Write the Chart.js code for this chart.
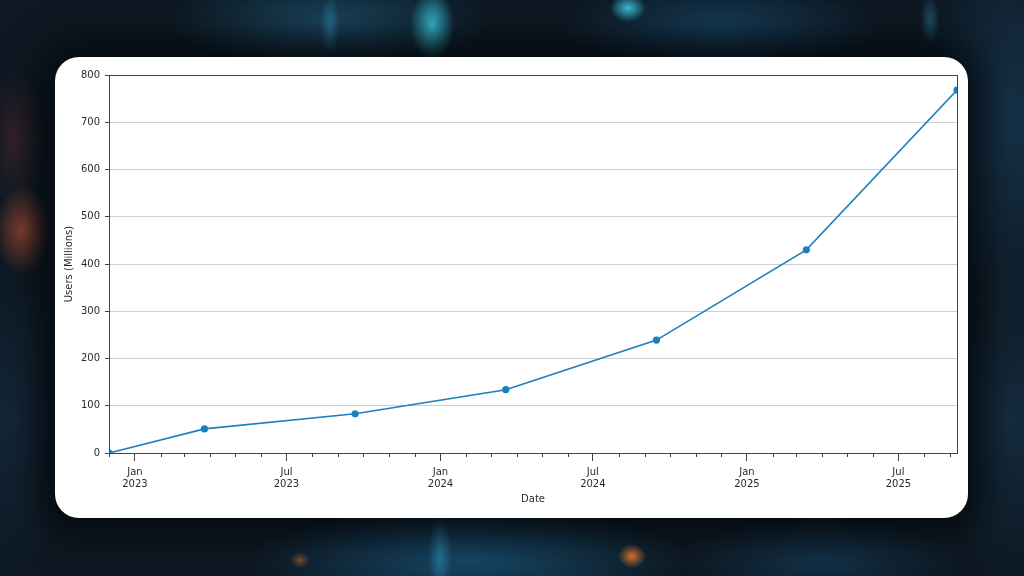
<!DOCTYPE html>
<html>
<head>
<meta charset="utf-8">
<script src="https://cdn.jsdelivr.net/npm/chart.js@4.4.1/dist/chart.umd.min.js"></script>
<style>
html,body{margin:0;padding:0;width:1024px;height:576px;overflow:hidden;background:#0d1822;}
#bg{position:absolute;left:0;top:0;width:1024px;height:576px;background:
 radial-gradient(ellipse 22px 35px at 432px 25px, rgba(60,210,235,0.85), rgba(60,210,235,0) 100%),
 radial-gradient(ellipse 18px 14px at 628px 8px, rgba(70,215,240,0.85), rgba(70,215,240,0) 100%),
 radial-gradient(ellipse 10px 30px at 330px 25px, rgba(50,150,190,0.5), rgba(50,150,190,0) 100%),
 radial-gradient(ellipse 10px 25px at 930px 20px, rgba(50,150,190,0.45), rgba(50,150,190,0) 100%),
 radial-gradient(ellipse 160px 50px at 330px 20px, rgba(40,120,160,0.45), rgba(40,120,160,0) 100%),
 radial-gradient(ellipse 160px 45px at 720px 25px, rgba(30,100,150,0.45), rgba(30,100,150,0) 100%),
 radial-gradient(ellipse 28px 45px at 22px 230px, rgba(210,90,55,0.6), rgba(210,90,55,0) 100%),
 radial-gradient(ellipse 30px 70px at 15px 140px, rgba(120,50,50,0.35), rgba(120,50,50,0) 100%),
 radial-gradient(ellipse 14px 12px at 632px 556px, rgba(245,130,50,0.9), rgba(245,130,50,0) 100%),
 radial-gradient(ellipse 10px 8px at 300px 560px, rgba(230,110,50,0.5), rgba(230,110,50,0) 100%),
 radial-gradient(ellipse 12px 40px at 440px 555px, rgba(50,160,200,0.55), rgba(50,160,200,0) 100%),
 radial-gradient(ellipse 220px 55px at 470px 560px, rgba(30,110,160,0.55), rgba(30,110,160,0) 100%),
 radial-gradient(ellipse 140px 45px at 820px 560px, rgba(25,80,120,0.45), rgba(25,80,120,0) 100%),
 radial-gradient(ellipse 90px 220px at 1010px 120px, rgba(30,75,110,0.5), rgba(30,75,110,0) 100%),
 radial-gradient(ellipse 70px 160px at 1010px 420px, rgba(30,70,100,0.45), rgba(30,70,100,0) 100%),
 radial-gradient(ellipse 60px 160px at 10px 420px, rgba(30,60,90,0.4), rgba(30,60,90,0) 100%),
 #0d1822;}
#card{position:absolute;left:55px;top:57px;width:913px;height:461px;background:#ffffff;border-radius:24px;box-shadow:0 0 36px 16px rgba(0,0,0,0.6);}
#c{position:absolute;left:0;top:0;}
</style>
</head>
<body>
<div id="bg"></div>
<div id="card"></div>
<canvas id="c" width="1024" height="576"></canvas>
<script>
// ---- data ----
const dates = ['2022-12-01','2023-03-25','2023-09-21','2024-03-19','2024-09-15','2025-03-13','2025-09-09'];
const users = [0, 51, 83, 134, 239, 430, 768];
const yTicks = [0, 100, 200, 300, 400, 500, 600, 700, 800];
const majorTickDates = ['2023-01-01','2023-07-01','2024-01-01','2024-07-01','2025-01-01','2025-07-01'];
const majorTickLabels = [['Jan','2023'],['Jul','2023'],['Jan','2024'],['Jul','2024'],['Jan','2025'],['Jul','2025']];
const xTitle = 'Date';
const yTitle = 'Users (Millions)';

// ---- helpers ----
const toDay = s => { const [y,m,d] = s.split('-').map(Number); return Date.UTC(y, m-1, d) / 86400000; };
const dayVals = dates.map(toDay);
const majorDays = majorTickDates.map(toDay);
const minorDays = [];
(function(){
  const a = new Date(dayVals[0]*86400000), b = dayVals[dayVals.length-1];
  let y = a.getUTCFullYear(), m = a.getUTCMonth();
  for(;;){ const v = Date.UTC(y, m, 1)/86400000; if (v > b) break; if (v >= dayVals[0]) minorDays.push(v); m++; if (m>11){m=0;y++;} }
})();

const FONT = {family:'"DejaVu Sans", sans-serif', size:10, lineHeight:1.15};
const TXT = '#2a2a2a';
const AX = '#444444';
const LINE = '#1a80be';

const framePlugin = {
  id:'frame',
  afterDraw(chart){
    const {ctx, chartArea:a, scales:{x}} = chart;
    ctx.save();
    ctx.strokeStyle = AX; ctx.lineWidth = 1;
    minorDays.forEach(d => {
      if (majorDays.includes(d)) return;
      const px = Math.round(x.getPixelForValue(d)) + 0.5;
      ctx.beginPath(); ctx.moveTo(px, a.bottom); ctx.lineTo(px, a.bottom + 4); ctx.stroke();
    });
    ctx.strokeRect(Math.round(a.left)+0.5, Math.round(a.top)+0.5, Math.round(a.right-a.left), Math.round(a.bottom-a.top));
    ctx.restore();
  }
};

new Chart(document.getElementById('c'), {
  type:'line',
  data:{
    datasets:[{
      data: dayVals.map((d,i)=>({x:d, y:users[i]})),
      borderColor: LINE, backgroundColor: LINE,
      borderWidth: 1.6, pointRadius: 3.6, pointHoverRadius: 3.6,
      pointBackgroundColor: LINE, pointBorderWidth: 0,
      tension: 0, clip: 0, fill:false
    }]
  },
  options:{
    responsive:false, animation:false, devicePixelRatio:1,
    layout:{padding:{left:60, right:67, top:75, bottom:63}},
    plugins:{legend:{display:false}, tooltip:{enabled:false}},
    events:[],
    scales:{
      x:{
        type:'linear', min: dayVals[0], max: dayVals[dayVals.length-1],
        afterBuildTicks: s => { s.ticks = majorDays.map(v => ({value:v})); },
        afterFit: s => { s.height = 60; },
        ticks:{
          autoSkip:false, maxRotation:0, padding:6, color:TXT, font:FONT,
          callback: v => { const i = majorDays.indexOf(v); return i >= 0 ? majorTickLabels[i] : ''; }
        },
        grid:{drawOnChartArea:false, tickLength:8, tickColor:AX, tickWidth:1, color:AX},
        border:{display:false},
        title:{display:true, text:xTitle, color:TXT, font:FONT, padding:{top:0, bottom:8}}
      },
      y:{
        min:0, max:800,
        afterBuildTicks: s => { s.ticks = yTicks.map(v => ({value:v})); },
        afterFit: s => { s.width = 49; },
        ticks:{padding:5, color:TXT, font:FONT},
        grid:{color:'#cfcfcf', lineWidth:1, tickLength:4, tickColor:AX, tickWidth:1},
        border:{display:false},
        title:{display:true, text:yTitle, color:TXT, font:FONT, padding:{top:4, bottom:0}}
      }
    }
  },
  plugins:[framePlugin]
});
</script>
</body>
</html>
